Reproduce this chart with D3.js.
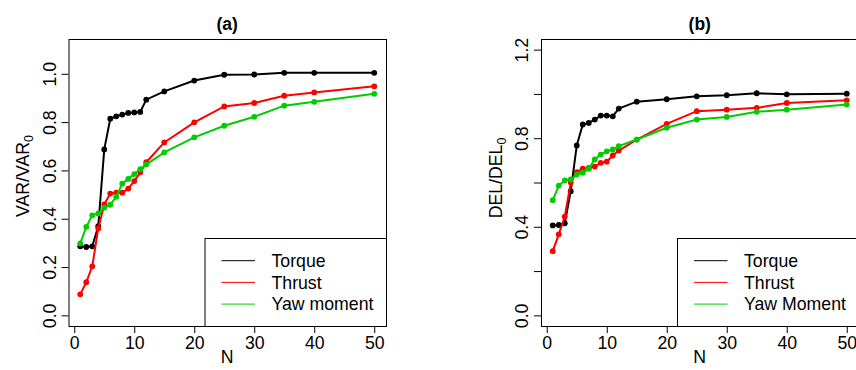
<!DOCTYPE html>
<html>
<head>
<meta charset="utf-8">
<script src="https://cdn.jsdelivr.net/npm/d3@7"></script>
<style>
  html, body { margin: 0; padding: 0; background: #fff; }
  svg { display: block; }
  text { font-family: "Liberation Sans", Arial, Helvetica, sans-serif; fill: #000; }
</style>
</head>
<body>
<svg id="chart" width="856" height="370"></svg>
<script>
// ---------- data ----------
const N = [1,2,3,4,5,6,7,8,9,10,11,12,15,20,25,30,35,40,50];

const varTorque = [0.286,0.283,0.286,0.369,0.687,0.814,0.824,0.831,0.838,0.840,0.842,0.893,0.927,0.972,0.996,0.997,1.004,1.004,1.004];
const varThrust = [0.087,0.137,0.203,0.360,0.459,0.504,0.508,0.508,0.525,0.556,0.592,0.634,0.716,0.799,0.865,0.879,0.909,0.923,0.948];
const varYaw    = [0.298,0.366,0.414,0.422,0.446,0.458,0.491,0.545,0.565,0.585,0.605,0.624,0.675,0.737,0.785,0.822,0.868,0.884,0.917];

const delTorque = [0.406,0.408,0.416,0.561,0.767,0.862,0.869,0.884,0.902,0.902,0.899,0.934,0.965,0.976,0.989,0.994,1.003,0.998,1.001];
const delThrust = [0.290,0.366,0.446,0.600,0.647,0.662,0.666,0.672,0.689,0.694,0.722,0.744,0.794,0.865,0.922,0.929,0.937,0.959,0.971];
const delYaw    = [0.520,0.586,0.609,0.614,0.636,0.644,0.662,0.704,0.726,0.741,0.749,0.764,0.794,0.847,0.884,0.896,0.919,0.929,0.952];

const xTicks = [0,10,20,30,40,50];
const xTickLabels = ["0","10","20","30","40","50"];
const yTicksA = [0,0.2,0.4,0.6,0.8,1.0];
const yTickLabelsA = ["0.0","0.2","0.4","0.6","0.8","1.0"];
const yTicksB = [0,0.2,0.4,0.6,0.8,1.0,1.2];
const yTickLabelsB = ["0.0","","0.4","","0.8","","1.2"];

const seriesColors = ["#000000","#FF0000","#00CD00"];
const legendA = ["Torque","Thrust","Yaw moment"];
const legendB = ["Torque","Thrust","Yaw Moment"];

// ---------- drawing ----------
const svg = d3.select("#chart");
const FS = 17.7;

function rPad(lo, hi) { const d = (hi - lo) * 0.04; return [lo - d, hi + d]; }

function panel(opt) {
  const {left, right, top, bottom} = opt;
  const x = d3.scaleLinear().domain(rPad(1, 50)).range([left, right]);
  const y = d3.scaleLinear().domain(rPad(opt.ylim[0], opt.ylim[1])).range([bottom, top]);
  const g = svg.append("g");

  const cid = "clip" + opt.id;
  svg.append("clipPath").attr("id", cid).append("rect")
    .attr("x", left).attr("y", top).attr("width", right - left).attr("height", bottom - top);

  // axes
  const xAxis = d3.axisBottom(x).tickValues(xTicks)
    .tickFormat((d, i) => xTickLabels[i]).tickSize(7).tickPadding(3);
  const gx = g.append("g").attr("transform", `translate(0,${bottom})`).call(xAxis);
  gx.select(".domain").attr("d", `M${x(xTicks[0])},0.5H${x(xTicks[xTicks.length-1])}`).attr("stroke", "#000");
  gx.selectAll("text").attr("font-size", FS).attr("font-family", null).attr("dy", "0.71em");

  const yAxis = d3.axisLeft(y).tickValues(opt.yTicks)
    .tickFormat((d, i) => opt.yLabels[i]).tickSize(7).tickPadding(0);
  const gy = g.append("g").attr("transform", `translate(${left},0)`).call(yAxis);
  gy.select(".domain").remove();
  gy.selectAll("text")
    .attr("font-size", FS).attr("font-family", null)
    .attr("text-anchor", "middle").attr("dy", null)
    .attr("x", null)
    .attr("transform", `translate(${-13},0) rotate(-90)`);
  g.selectAll(".tick line").attr("stroke", "#000");

  // box
  g.append("rect").attr("x", left + 0.5).attr("y", top + 0.5)
    .attr("width", right - left).attr("height", bottom - top)
    .attr("fill", "none").attr("stroke", "#000").attr("stroke-width", 1);

  // series
  const line = d3.line().x((d, i) => x(N[i])).y(d => y(d));
  const dg = g.append("g").attr("clip-path", `url(#${cid})`);
  opt.series.forEach((s, k) => {
    dg.append("path").datum(s).attr("d", line)
      .attr("fill", "none").attr("stroke", seriesColors[k]).attr("stroke-width", 2);
    dg.selectAll(null).data(s).enter().append("circle")
      .attr("cx", (d, i) => x(N[i])).attr("cy", d => y(d)).attr("r", 2.9)
      .attr("fill", seriesColors[k]);
  });

  // legend (bottom right)
  const lgLeft = left + 136.5, lgTop = 238.5;
  g.append("rect").attr("x", lgLeft).attr("y", lgTop)
    .attr("width", right - lgLeft + 0.5).attr("height", bottom - lgTop + 0.5)
    .attr("fill", "#fff").attr("stroke", "#000").attr("stroke-width", 1);
  opt.legend.forEach((name, k) => {
    const yy = 260.7 + k * 21.7;
    g.append("line").attr("x1", lgLeft + 16.5).attr("x2", lgLeft + 50)
      .attr("y1", yy).attr("y2", yy).attr("stroke", seriesColors[k]).attr("stroke-width", 1);
    g.append("text").attr("x", lgLeft + 66.5).attr("y", yy + 6.3)
      .attr("font-size", FS).text(name);
  });

  // title
  g.append("text").attr("x", (left + right) / 2).attr("y", 29.5)
    .attr("text-anchor", "middle").attr("font-size", 17.5).attr("font-weight", "bold")
    .text(opt.title);

  // x label
  g.append("text").attr("x", (left + right) / 2).attr("y", 363)
    .attr("text-anchor", "middle").attr("font-size", FS).text("N");

  // y label with subscript
  const yl = g.append("text")
    .attr("transform", `translate(${left - 39.5},${opt.ylabCenter}) rotate(-90)`)
    .attr("text-anchor", "middle").attr("font-size", FS);
  yl.append("tspan").text(opt.ylab + "/" + opt.ylab);
  yl.append("tspan").attr("font-size", 12.5).attr("dy", 4).text("0");
}

panel({
  id: "a", left: 68.5, right: 386, top: 39, bottom: 326,
  ylim: [0, 1.1], yTicks: yTicksA, yLabels: yTickLabelsA,
  series: [varTorque, varThrust, varYaw], legend: legendA,
  title: "(a)", ylab: "VAR", ylabCenter: 176
});
panel({
  id: "b", left: 541, right: 858.5, top: 39, bottom: 326,
  ylim: [0, 1.2], yTicks: yTicksB, yLabels: yTickLabelsB,
  series: [delTorque, delThrust, delYaw], legend: legendB,
  title: "(b)", ylab: "DEL", ylabCenter: 178
});
</script>
</body>
</html>
